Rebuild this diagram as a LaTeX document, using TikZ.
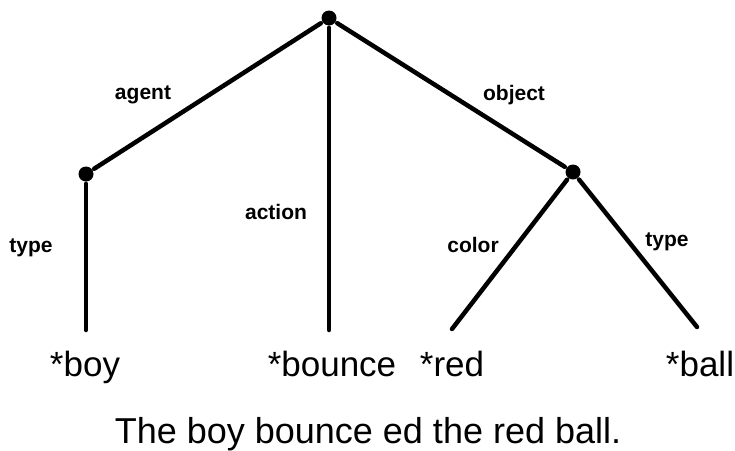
\documentclass[tikz,border=0pt]{standalone}
\usepackage{fontspec}
\setmainfont{Liberation Sans}
\usetikzlibrary{positioning}
\tikzset{
  every picture/.style={line width=4.5pt, x=1pt, y=-1pt},
  dot/.style={circle, fill=black, inner sep=0pt, minimum size=15pt},
  arc/.style={draw=black, line cap=round},
  rel/.style={font=\fontsize{21}{23}\selectfont\bfseries, inner sep=0pt},
  leaf/.style={font=\fontsize{35}{40}\selectfont, inner sep=0pt, anchor=base},
  caption/.style={font=\fontsize{36}{40}\selectfont, inner sep=0pt, anchor=base},
}

\begin{document}
\begin{tikzpicture}
  \useasboundingbox (0,0) rectangle (735,450);
  % frame nodes
  \node[dot] (root) at (329,18) {};
  \node[dot] (agt) at (86,174) {};
  \node[dot] (obj) at (573,172) {};
  \coordinate (boyend) at (86,330);
  \coordinate (bounceend) at (329,330);
  \coordinate (redend) at (452,329);
  \coordinate (ballend) at (697,327);
  \draw[arc] (root) -- (agt);
  \draw[arc] (root) -- (bounceend);
  \draw[arc] (root) -- (obj);
  \draw[arc] (agt) -- (boyend);
  \draw[arc] (obj) -- (redend);
  \draw[arc] (obj) -- (ballend);
  % slot names
  \node[rel] (agentlbl) at (143,95) {agent};
  \node[rel] (objectlbl) at (514,95) {object};
  \node[rel] (actionlbl) at (276,212) {action};
  \node[rel] (typelbl) at (31,248) {type};
  \node[rel] (colorlbl) at (473,245) {color};
  \node[rel] (typelbltwo) at (667,242) {type};
  % fillers
  \node[leaf] (boy) at (85,376) {*boy};
  \node[leaf] (bounce) at (332,376) {*bounce};
  \node[leaf] (red) at (452,376) {*red};
  \node[leaf] (ball) at (700,376) {*ball};
  \node[caption] (sentence) at (368,443) {The boy bounce ed the red ball.};
\end{tikzpicture}
\end{document}
